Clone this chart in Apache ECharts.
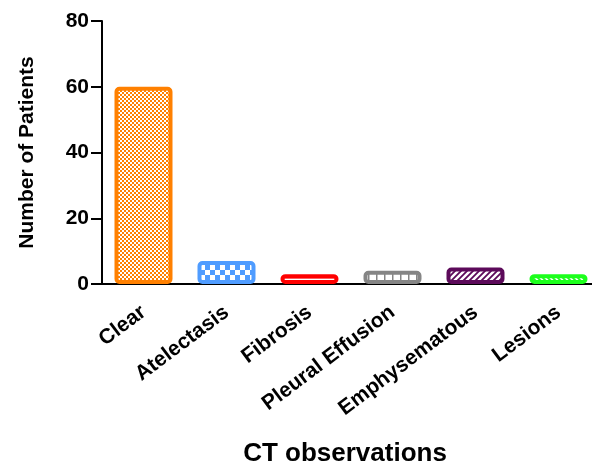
<!DOCTYPE html>
<html>
<head>
<meta charset="utf-8">
<script src="https://cdn.jsdelivr.net/npm/echarts@6/dist/echarts.min.js"></script>
<style>
  html, body { margin: 0; padding: 0; background: #fff; }
  #chart-container { width: 592px; height: 463px; }
</style>
</head>
<body>
<div id="chart-container"></div>
<script>
// data
var categories = ['Clear', 'Atelectasis', 'Fibrosis', 'Pleural Effusion', 'Emphysematous', 'Lesions'];
var patients = [60, 7, 3, 4, 5, 3];
var yTicks = [0, 20, 40, 60, 80];

// bar colours and fill patterns, one per category
var barColors = ['#ff8000', '#4f9cff', '#ff0000', '#858585', '#5c0a5a', '#1cff1c'];
var barPatterns = ['dots', 'checker', 'hlines', 'vlines', 'slash', 'backslash'];

function makePattern(kind, color) {
	var c = document.createElement('canvas');
	var s = 4;
	if (kind === 'checker') s = 10;
	if (kind === 'hlines') s = 4;
	if (kind === 'vlines') s = 8;
	if (kind === 'slash') s = 6;
	if (kind === 'backslash') s = 5;
	c.width = s;
	c.height = s;
	var ctx = c.getContext('2d');
	ctx.fillStyle = '#fff';
	ctx.fillRect(0, 0, s, s);
	ctx.fillStyle = color;
	ctx.strokeStyle = color;
	if (kind === 'dots') {
		ctx.fillRect(0, 0, s, s);
		ctx.fillStyle = '#fff';
		ctx.fillRect(0, 0, 2, 2);
		ctx.fillRect(2, 2, 2, 2);
	} else if (kind === 'checker') {
		ctx.fillRect(0, 0, 5, 5);
		ctx.fillRect(5, 5, 5, 5);
	} else if (kind === 'hlines') {
		ctx.fillRect(0, 1, s, 1.5);
	} else if (kind === 'vlines') {
		ctx.fillRect(0, 0, 1.5, s);
	} else {
		ctx.lineWidth = 1.8;
		ctx.beginPath();
		if (kind === 'slash') {
			ctx.moveTo(-1, s + 1); ctx.lineTo(s + 1, -1);
			ctx.moveTo(-1, 1); ctx.lineTo(1, -1);
			ctx.moveTo(s - 1, s + 1); ctx.lineTo(s + 1, s - 1);
		} else {
			ctx.moveTo(-1, -1); ctx.lineTo(s + 1, s + 1);
			ctx.moveTo(s - 1, -1); ctx.lineTo(s + 1, 1);
			ctx.moveTo(-1, s - 1); ctx.lineTo(1, s + 1);
		}
		ctx.stroke();
	}
	return c;
}

var dom = document.getElementById('chart-container');
var myChart = echarts.init(dom, null, { renderer: 'canvas' });

var barData = patients.map(function (v, i) {
	return {
		value: v,
		itemStyle: {
			color: { image: makePattern(barPatterns[i], barColors[i]), repeat: 'repeat' },
			borderColor: barColors[i],
			borderWidth: 4,
			borderRadius: 3
		}
	};
});

var option = {
	animation: false,
	textStyle: {
		fontFamily: 'Liberation Sans, Arial, sans-serif',
		color: '#000'
	},
	grid: {
		left: 102,
		top: 21,
		bottom: 179,
		width: 498,
		outerBoundsMode: 'none',
		containLabel: false
	},
	xAxis: {
		type: 'category',
		data: categories,
		name: 'CT observations',
		nameLocation: 'middle',
		nameGap: 157,
		nameTextStyle: { fontSize: 26, fontWeight: 'bold', color: '#000', padding: [0, 12, 0, 0] },
		axisLine: { lineStyle: { color: '#000', width: 2 } },
		axisTick: { alignWithLabel: true, length: 8, lineStyle: { color: '#000', width: 2 } },
		axisLabel: {
			rotate: 37,
			margin: 26,
			fontSize: 21,
			fontWeight: 'bold',
			color: '#000',
			interval: 0
		}
	},
	yAxis: {
		type: 'value',
		min: yTicks[0],
		max: yTicks[yTicks.length - 1],
		interval: yTicks[1] - yTicks[0],
		name: 'Number of Patients',
		nameLocation: 'middle',
		nameRotate: 90,
		nameGap: 64,
		nameTextStyle: { fontSize: 21, fontWeight: 'bold', color: '#000' },
		axisLine: { show: true, lineStyle: { color: '#000', width: 2 } },
		axisTick: { show: true, length: 11, lineStyle: { color: '#000', width: 2 } },
		axisLabel: { fontSize: 21, fontWeight: 'bold', color: '#000', margin: 13 },
		splitLine: { show: false }
	},
	series: [{
		type: 'bar',
		barWidth: 58,
		data: barData
	}]
};

myChart.setOption(option);
window.addEventListener('resize', myChart.resize);
</script>
</body>
</html>
